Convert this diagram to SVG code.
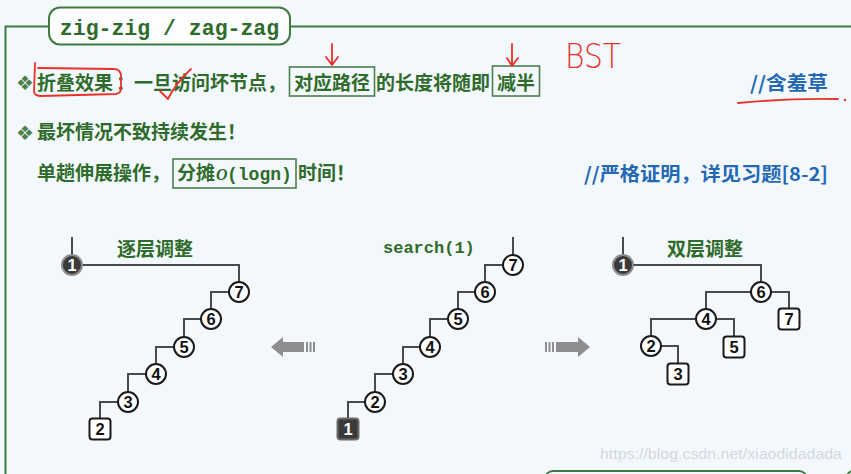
<svg xmlns="http://www.w3.org/2000/svg" width="851" height="474" viewBox="0 0 851 474">
  <style>
    .frame { fill: none; stroke: #3f7a3f; stroke-width: 2; }
    .tbox { fill: none; stroke: #4d7f4d; stroke-width: 1.6; }
    .cn { font-family: "Noto Sans CJK SC", "Liberation Sans", sans-serif; font-weight: bold; font-size: 19px; fill: #2f6b2a; }
    .blue { font-family: "Noto Sans CJK SC", "Liberation Sans", sans-serif; font-weight: bold; font-size: 19px; fill: #2468b4; }
    .mono { font-family: "Liberation Mono", "DejaVu Sans Mono", monospace; font-weight: bold; fill: #2f6b2a; }
    .bullet { font-family: "DejaVu Sans", sans-serif; font-size: 20px; fill: #4b7f4b; }
    .edge { fill: none; stroke: #4a4a4a; stroke-width: 2; }
    .node { fill: #ffffff; stroke: #1a1a1a; stroke-width: 2; }
    .dark { fill: #3a3a3a; stroke: #8c8c8c; stroke-width: 2; }
    .num { font-family: "Liberation Sans", "DejaVu Sans", sans-serif; font-weight: bold; font-size: 16.5px; fill: #111; text-anchor: middle; }
    .numw { font-family: "Liberation Sans", "DejaVu Sans", sans-serif; font-weight: bold; font-size: 16.5px; fill: #ffffff; text-anchor: middle; }
    .ink { fill: none; stroke: #e8322a; stroke-width: 1.8; stroke-linecap: round; stroke-linejoin: round; }
    .garrow { fill: #8e8e8e; }
  </style>

  <!-- page background -->
  <rect x="0" y="0" width="851" height="474" fill="#f3f8fd"/>

  <!-- section frame with title tab -->
  <g id="frame">
    <path class="frame" d="M5.5,474 V26.5 H49 M290,26.5 H851"/>
    <rect x="49" y="7.5" width="241" height="37" rx="11" fill="#fbfdff" stroke="#3f7a3f" stroke-width="2"/>
    <text class="mono" x="169.5" y="35" font-size="21.5" text-anchor="middle">zig-zig / zag-zag</text>
    <rect x="545" y="471" width="262" height="20" rx="8" class="frame"/>
    <rect x="846" y="471" width="40" height="20" rx="8" class="frame"/>
  </g>

  <!-- bullet text lines -->
  <g id="line1">
    <text class="bullet" x="16" y="90">❖</text>
    <text class="cn" x="37" y="90">折叠效果</text>
    <text class="cn" x="116" y="90">：</text>
    <text class="cn" x="134" y="90">一旦访问坏节点，</text>
    <rect class="tbox" x="289.5" y="67" width="85" height="29"/>
    <text class="cn" x="294" y="90">对应路径</text>
    <text class="cn" x="376" y="90">的长度将随即</text>
    <rect class="tbox" x="492.5" y="66" width="47" height="30"/>
    <text class="cn" x="497" y="90">减半</text>
    <text class="blue" x="828" y="90" text-anchor="end" textLength="78" lengthAdjust="spacingAndGlyphs">//含羞草</text>
  </g>
  <g id="line2">
    <text class="bullet" x="16" y="140">❖</text>
    <text class="cn" x="37" y="139">最坏情况不致持续发生！</text>
  </g>
  <g id="line3">
    <text class="cn" x="37" y="180">单趟伸展操作，</text>
    <rect class="tbox" x="173" y="159" width="123" height="29"/>
    <text class="cn" x="177" y="180">分摊</text>
    <text x="216" y="180" font-family="Liberation Serif, serif" font-style="italic" font-weight="bold" font-size="16" fill="#2f6b2a">O</text>
    <text class="mono" x="227" y="180" font-size="18">(logn)</text>
    <text class="cn" x="298" y="180">时间！</text>
    <text class="blue" x="828" y="181" text-anchor="end" textLength="244" lengthAdjust="spacingAndGlyphs">//严格证明，详见习题[8-2]</text>
  </g>

  <!-- handwritten red notes -->
  <g id="notes">
    <path class="ink" d="M35,63 L34,92 Q35,96 41,96 L116,94 Q121,93 121,88 L121,75 Q120,69 114,69 L38,68"/>
    <path class="ink" d="M160,91 L168,99 Q175,84 191,69"/>
    <path class="ink" d="M332,44 V65 M326,57 L332,65 L338,57"/>
    <path class="ink" d="M512,44 V66 M507,58 L512,66 L518,58"/>
    <text x="565" y="68" font-family="DejaVu Sans, sans-serif" font-weight="200" font-size="34" fill="#e8322a" textLength="56" lengthAdjust="spacingAndGlyphs">BST</text>
    <path class="ink" d="M738,103 Q790,98 838,99"/>
    <circle cx="845" cy="100" r="1.2" fill="#e8322a"/>
  </g>

  <!-- connectors -->
  <g id="connectors">
    <!-- left tree -->
    <path class="edge" d="M72,237 V255"/>
    <path class="edge" d="M82,265 H239 V282"/>
    <path class="edge" d="M229,292 H211 V309"/>
    <path class="edge" d="M201,319 H184 V337"/>
    <path class="edge" d="M174,347 H156 V364"/>
    <path class="edge" d="M146,374 H128 V392"/>
    <path class="edge" d="M118,402 H100 V418"/>
    <!-- middle tree -->
    <path class="edge" d="M513,237 V255"/>
    <path class="edge" d="M503,265 H485 V282"/>
    <path class="edge" d="M475,292 H458 V309"/>
    <path class="edge" d="M448,319 H430 V337"/>
    <path class="edge" d="M420,347 H403 V364"/>
    <path class="edge" d="M393,374 H375 V392"/>
    <path class="edge" d="M365,402 H348 V418"/>
    <!-- right tree -->
    <path class="edge" d="M623,237 V255"/>
    <path class="edge" d="M633,265 H761 V282"/>
    <path class="edge" d="M751,292 H706 V309"/>
    <path class="edge" d="M771,292 H789 V308"/>
    <path class="edge" d="M696,319 H651 V336"/>
    <path class="edge" d="M716,319 H734 V336"/>
    <path class="edge" d="M661,346 H678 V363"/>
  </g>

  <!-- tree captions -->
  <text class="cn" x="117" y="256">逐层调整</text>
  <text class="mono" x="383" y="253" font-size="17">search(1)</text>
  <text class="cn" x="667" y="256">双层调整</text>

  <!-- left tree nodes -->
  <g id="L1"><circle class="dark" cx="72" cy="265" r="10"/><text class="numw" x="72" y="271">1</text></g>
  <g id="L7"><circle class="node" cx="239" cy="292" r="10"/><text class="num" x="239" y="298">7</text></g>
  <g id="L6"><circle class="node" cx="211" cy="319" r="10"/><text class="num" x="211" y="325">6</text></g>
  <g id="L5"><circle class="node" cx="184" cy="347" r="10"/><text class="num" x="184" y="353">5</text></g>
  <g id="L4"><circle class="node" cx="156" cy="374" r="10"/><text class="num" x="156" y="380">4</text></g>
  <g id="L3"><circle class="node" cx="128" cy="402" r="10"/><text class="num" x="128" y="408">3</text></g>
  <g id="L2"><rect class="node" x="89.5" y="418.5" width="21" height="21" rx="3"/><text class="num" x="100" y="435">2</text></g>

  <!-- middle tree nodes -->
  <g id="M7"><circle class="node" cx="513" cy="265" r="10"/><text class="num" x="513" y="271">7</text></g>
  <g id="M6"><circle class="node" cx="485" cy="292" r="10"/><text class="num" x="485" y="298">6</text></g>
  <g id="M5"><circle class="node" cx="458" cy="319" r="10"/><text class="num" x="458" y="325">5</text></g>
  <g id="M4"><circle class="node" cx="430" cy="347" r="10"/><text class="num" x="430" y="353">4</text></g>
  <g id="M3"><circle class="node" cx="403" cy="374" r="10"/><text class="num" x="403" y="380">3</text></g>
  <g id="M2"><circle class="node" cx="375" cy="402" r="10"/><text class="num" x="375" y="408">2</text></g>
  <g id="M1"><rect class="dark" x="337.5" y="418.5" width="21" height="21" rx="3" style="stroke:#6a6a6a"/><text class="numw" x="348" y="435">1</text></g>

  <!-- right tree nodes -->
  <g id="R1"><circle class="dark" cx="623" cy="265" r="10"/><text class="numw" x="623" y="271">1</text></g>
  <g id="R6"><circle class="node" cx="761" cy="292" r="10"/><text class="num" x="761" y="298">6</text></g>
  <g id="R4"><circle class="node" cx="706" cy="319" r="10"/><text class="num" x="706" y="325">4</text></g>
  <g id="R7"><rect class="node" x="778.5" y="308.5" width="21" height="21" rx="3"/><text class="num" x="789" y="325">7</text></g>
  <g id="R2"><circle class="node" cx="651" cy="346" r="10"/><text class="num" x="651" y="352">2</text></g>
  <g id="R5"><rect class="node" x="723.5" y="336.5" width="21" height="21" rx="3"/><text class="num" x="734" y="353">5</text></g>
  <g id="R3"><rect class="node" x="667.5" y="363.5" width="21" height="21" rx="3"/><text class="num" x="678" y="380">3</text></g>

  <!-- gray transition arrows -->
  <g id="arrow-left">
    <path class="garrow" d="M271,347 L283,337 V342 H304 V352 H283 V357 Z"/>
    <rect class="garrow" x="306" y="342" width="2" height="10"/>
    <rect class="garrow" x="309.5" y="342" width="2" height="10"/>
    <rect class="garrow" x="313" y="342" width="2" height="10"/>
  </g>
  <g id="arrow-right">
    <rect class="garrow" x="545" y="342" width="2" height="10"/>
    <rect class="garrow" x="548.5" y="342" width="2" height="10"/>
    <rect class="garrow" x="552" y="342" width="2" height="10"/>
    <path class="garrow" d="M590,347 L578,337 V342 H556 V352 H578 V357 Z"/>
  </g>

  <!-- watermark -->
  <text x="600" y="459" font-family="Liberation Sans, sans-serif" font-size="15.5" fill="#d3d8de" textLength="242" lengthAdjust="spacingAndGlyphs">https://blog.csdn.net/xiaodidadada</text>
</svg>
